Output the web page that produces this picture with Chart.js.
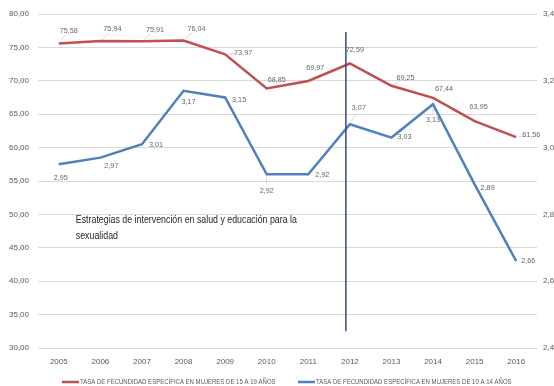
<!DOCTYPE html>
<html>
<head>
<meta charset="utf-8">
<script src="https://cdn.jsdelivr.net/npm/chart.js@4"></script>
<style>
  html, body { margin: 0; padding: 0; background: #fff; }
  #wrap { width: 554px; height: 386px; }
</style>
</head>
<body>
<div id="wrap"><canvas id="chart"></canvas></div>
<script>
"use strict";

// Data
const years = ['2005', '2006', '2007', '2008', '2009', '2010', '2011', '2012', '2013', '2014', '2015', '2016'];
const tasa15a19 = [75.58, 75.94, 75.91, 76.04, 73.97, 68.85, 69.97, 72.59, 69.25, 67.44, 63.95, 61.56];
const tasa10a14 = [2.95, 2.97, 3.01, 3.17, 3.15, 2.92, 2.92, 3.07, 3.03, 3.13, 2.89, 2.66];
const label15a19 = 'TASA DE FECUNDIDAD ESPECÍFICA EN MUJERES DE 15 A 19 AÑOS';
const label10a14 = 'TASA DE FECUNDIDAD ESPECÍFICA EN MUJERES DE 10 A 14 AÑOS';
const annotationLines = ['Estrategias de intervención en salud y educación para la', 'sexualidad'];

// label placement (px offsets from each point)
const redOffsets = [[10, -13], [12, -12], [13, -12], [13, -12], [18, -1], [10, -9], [7, -13], [5, -14], [14, -8], [11, -9], [4, -14], [15, -2]];
const blueOffsets = [[2, 13], [11, 8], [14, 1], [5, 11], [14, 2], [0, 16], [14, 0], [9, -16], [13, -1], [0, 16], [13, 3], [12, 0]];

const RED = '#C0504D';
const BLUE = '#4F81BD';
const FONT = '"Liberation Sans", Arial, sans-serif';

const fmt = v => v.toFixed(2).replace('.', ',');

// text squeezed horizontally to mimic the narrow office font
function narrowText(ctx, text, x, y, sx) {
    ctx.save();
    ctx.translate(x, y);
    ctx.scale(sx, 1);
    ctx.fillText(text, 0, 0);
    ctx.restore();
}

const overlay = {
    id: 'overlay',
    afterDatasetsDraw(chart) {
        const ctx = chart.ctx;
        const x = chart.scales.x, y = chart.scales.y;

        // vertical marker line near 2012
        const vx = x.getPixelForValue(7) - 4;
        ctx.save();
        ctx.strokeStyle = '#2E4A87';
        ctx.lineWidth = 1.5;
        ctx.beginPath();
        ctx.moveTo(vx, y.getPixelForValue(77.3));
        ctx.lineTo(vx, y.getPixelForValue(32.5));
        ctx.stroke();

        // data labels
        ctx.font = '8px ' + FONT;
        ctx.textAlign = 'center';
        ctx.textBaseline = 'middle';
        [[0, redOffsets], [1, blueOffsets]].forEach(([di, offs]) => {
            const meta = chart.getDatasetMeta(di);
            const vals = chart.data.datasets[di].data;
            meta.data.forEach((pt, i) => {
                const [dx, dy] = offs[i];
                const lx = pt.x + dx, ly = pt.y + dy;
                if (Math.hypot(dx, dy) > 15) {
                    ctx.strokeStyle = '#bfbfbf';
                    ctx.lineWidth = 0.6;
                    ctx.beginPath();
                    ctx.moveTo(pt.x + dx * 0.15, pt.y + dy * 0.15);
                    ctx.lineTo(lx - dx * 0.35, ly - dy * 0.35);
                    ctx.stroke();
                }
                ctx.fillStyle = '#666666';
                narrowText(ctx, fmt(vals[i]), lx, ly, 0.9);
            });
        });

        // annotation text
        ctx.font = '10.5px ' + FONT;
        ctx.fillStyle = '#262626';
        ctx.textAlign = 'left';
        const ax = x.getPixelForValue(0) + 17;
        const ay = y.getPixelForValue(50) + 6;
        annotationLines.forEach((t, i) => narrowText(ctx, t, ax, ay + i * 16, 0.84));

        // legend
        ctx.font = '7px ' + FONT;
        ctx.fillStyle = '#595959';
        ctx.textBaseline = 'middle';
        const ly = 382;
        [[RED, label15a19, 62], [BLUE, label10a14, 298]].forEach(([c, t, lx]) => {
            ctx.strokeStyle = c;
            ctx.lineWidth = 2.5;
            ctx.beginPath();
            ctx.moveTo(lx, ly);
            ctx.lineTo(lx + 17, ly);
            ctx.stroke();
            narrowText(ctx, t, lx + 18, ly, 0.86);
        });
        ctx.restore();
    }
};

new Chart(document.getElementById('chart'), {
    type: 'line',
    data: {
        labels: years,
        datasets: [{
            label: label15a19,
            data: tasa15a19,
            borderColor: RED,
            backgroundColor: RED,
            borderWidth: 2.5,
            pointRadius: 0,
            tension: 0,
            yAxisID: 'y'
        }, {
            label: label10a14,
            data: tasa10a14,
            borderColor: BLUE,
            backgroundColor: BLUE,
            borderWidth: 2.5,
            pointRadius: 0,
            tension: 0,
            yAxisID: 'y1'
        }]
    },
    options: {
        responsive: true,
        maintainAspectRatio: false,
        animation: false,
        layout: { padding: { top: 14, left: 0, right: 0, bottom: 0 } },
        plugins: {
            legend: { display: false },
            tooltip: { enabled: false }
        },
        scales: {
            x: {
                offset: true,
                grid: { display: false },
                border: { display: false },
                ticks: { color: '#595959', font: { family: FONT, size: 8 }, padding: 1, maxRotation: 0 },
                afterFit: s => { s.height = 38; }
            },
            y: {
                min: 30, max: 80,
                grid: { color: '#d9d9d9', drawTicks: false },
                border: { display: false },
                ticks: { stepSize: 5, color: '#595959', font: { family: FONT, size: 8 }, padding: 9, callback: v => fmt(v) },
                afterFit: s => { s.width = 38; }
            },
            y1: {
                position: 'right',
                min: 2.4, max: 3.4,
                grid: { display: false, drawTicks: false },
                border: { display: false },
                ticks: { stepSize: 0.2, color: '#595959', font: { family: FONT, size: 8 }, padding: 6, callback: v => fmt(v) },
                afterFit: s => { s.width = 17; }
            }
        }
    },
    plugins: [overlay]
});
</script>
</body>
</html>
